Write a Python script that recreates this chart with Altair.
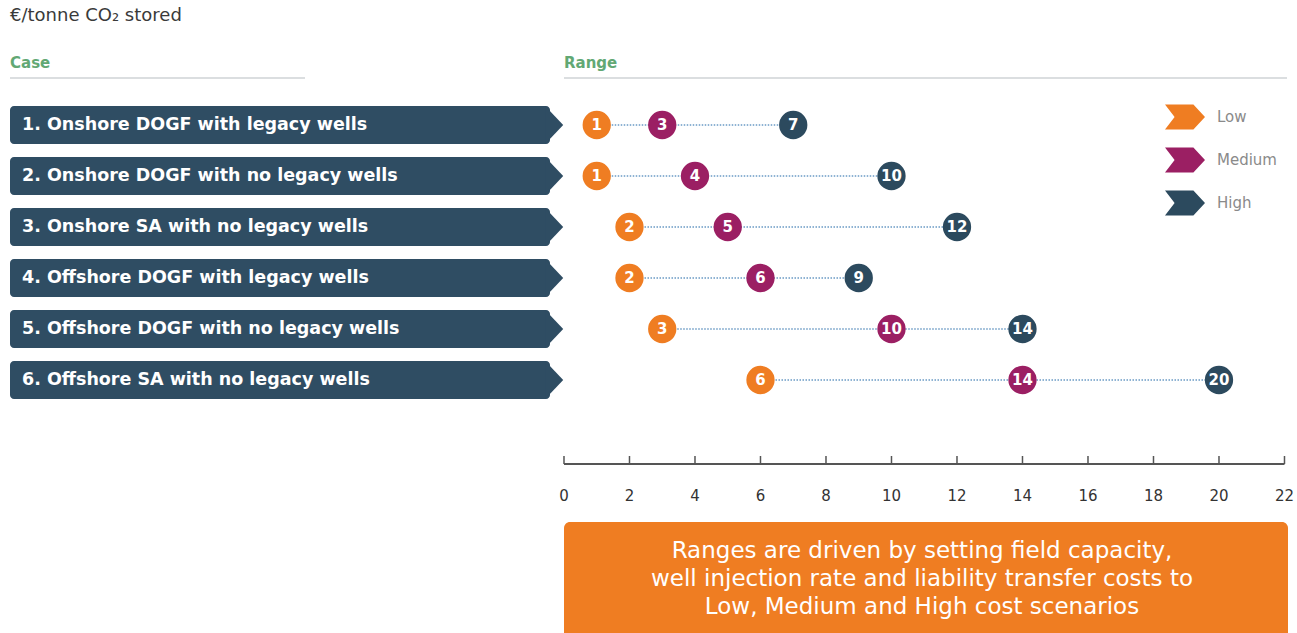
import altair as alt
import pandas as pd

# ---------------- data ----------------
cases = [
    "1. Onshore DOGF with legacy wells",
    "2. Onshore DOGF with no legacy wells",
    "3. Onshore SA with no legacy wells",
    "4. Offshore DOGF with legacy wells",
    "5. Offshore DOGF with no legacy wells",
    "6. Offshore SA with no legacy wells",
]
low = [1, 1, 2, 2, 3, 6]
medium = [3, 4, 5, 6, 10, 14]
high = [7, 10, 12, 9, 14, 20]
levels = ["Low", "Medium", "High"]
level_colors = ["#EF7D22", "#9B1F63", "#2C4A5E"]
tick_values = list(range(0, 23, 2))
title_text = "€/tonne CO₂ stored"
header_case = "Case"
header_range = "Range"
note_lines = [
    "Ranges are driven by setting field capacity,",
    "well injection rate and liability transfer costs to",
    "Low, Medium and High cost scenarios",
]

# ---------------- styles ----------------
W, H = 1297, 633
FONT = "DejaVu Sans"
BANNER = "#2F4D63"
GREEN = "#62A874"
ORANGE = "#EF7D22"
HALF = 0.3725  # half banner height in row units

rows = list(range(1, len(cases) + 1))
cases_df = pd.DataFrame({"case": cases, "row": rows})
ranges_df = pd.DataFrame({"case": cases, "row": rows, "low": low, "high": high})
dots_df = pd.DataFrame(
    [{"case": c, "row": r, "level": lv, "value": v}
     for c, r, l, m, h in zip(cases, rows, low, medium, high)
     for lv, v in zip(levels, [l, m, h])]
)
ticks_df = pd.DataFrame({"tick": tick_values})
axis_df = pd.DataFrame({"a": [tick_values[0]], "b": [tick_values[-1]]})
one = pd.DataFrame({"k": [0]})

xs = alt.Scale(domain=[-17.221, 22.382], nice=False, zero=False)
ys = alt.Scale(domain=[-1.451, 10.961], nice=False, zero=False, reverse=True)
X = lambda f: alt.X(f, scale=xs, axis=None)
Y = lambda f: alt.Y(f, scale=ys, axis=None)

def txt(s, x, y, **kw):
    return alt.Chart(one).mark_text(baseline="middle", font=FONT, **kw).encode(
        x=alt.value(x), y=alt.value(y), text=alt.value(s))

# headers
title = txt(title_text, 10, 16, align="left", fontSize=18, color="#3a3a3a")
hcase = txt(header_case, 10, 63, align="left", fontSize=15, fontWeight="bold", color=GREEN)
hrange = txt(header_range, 564, 63, align="left", fontSize=15, fontWeight="bold", color=GREEN)
uline1 = alt.Chart(one).mark_rule(color="#cfd3d6", strokeWidth=1.5).encode(
    x=alt.value(10), x2=alt.value(305), y=alt.value(78))
uline2 = alt.Chart(one).mark_rule(color="#cfd3d6", strokeWidth=1.5).encode(
    x=alt.value(564), x2=alt.value(1287), y=alt.value(78))

# banners
banners = alt.Chart(cases_df).transform_calculate(
    y0=f"datum.row - {HALF}", y1=f"datum.row + {HALF}"
).mark_rect(color=BANNER, cornerRadius=4).encode(
    y=Y("y0:Q"), y2="y1:Q", x=alt.value(10), x2=alt.value(550))
tips = alt.Chart(cases_df).mark_point(
    shape="M-0.15,-1L0.8,0L-0.15,1Z", size=1444, filled=True, opacity=1, color=BANNER, strokeWidth=0
).encode(y=Y("row:Q"), x=alt.value(548))
blabels = alt.Chart(cases_df).mark_text(align="left", baseline="middle", font=FONT, fontSize=17.5,
                                        fontWeight="bold", color="white").encode(
    y=Y("row:Q"), x=alt.value(22), text="case:N")

# range lines
lines = alt.Chart(ranges_df).mark_rule(color="#8FB3D3", strokeWidth=2, strokeDash=[1.5, 1.5]).encode(
    y=Y("row:Q"), x=X("low:Q"), x2="high:Q")

# dots
dots = alt.Chart(dots_df).mark_circle(size=800, opacity=1).encode(
    y=Y("row:Q"), x=X("value:Q"),
    color=alt.Color("level:N", scale=alt.Scale(domain=levels, range=level_colors),
                    legend=alt.Legend(title=None, orient="none", legendX=1165, legendY=97,
                                      symbolType="M-1,-0.62L0.42,-0.62L1,0L0.42,0.62L-1,0.62L-0.52,0Z",
                                      symbolSize=1600, symbolStrokeWidth=0, symbolOpacity=1,
                                      labelFont=FONT, labelFontSize=15, labelColor="#8a8a8a",
                                      labelOffset=12, rowPadding=10, padding=0)))
dlabels = alt.Chart(dots_df).mark_text(baseline="middle", align="center", font=FONT, fontSize=15,
                                       fontWeight="bold", color="white").encode(
    y=Y("row:Q"), x=X("value:Q"), text="value:Q")

# axis
axline = alt.Chart(axis_df).mark_rule(color="#555555", strokeWidth=2).encode(
    x=X("a:Q"), x2="b:Q", y=alt.value(464))
axticks = alt.Chart(ticks_df).mark_rule(color="#555555", strokeWidth=1.5).encode(
    x=X("tick:Q"), y=alt.value(456), y2=alt.value(464))
axlabels = alt.Chart(ticks_df).mark_text(baseline="middle", align="center", font=FONT, fontSize=15,
                                         color="#333333").encode(
    x=X("tick:Q"), y=alt.value(496), text="tick:Q")

# note box
box = alt.Chart(one).mark_rect(color=ORANGE, cornerRadius=6).encode(
    x=alt.value(564), x2=alt.value(1288), y=alt.value(522), y2=alt.value(650))
note = alt.Chart(one).mark_text(align="center", baseline="middle", font=FONT, fontSize=23, lineHeight=28,
                                lineBreak="\n", color="white").encode(
    x=alt.value(922), y=alt.value(551), text=alt.value("\n".join(note_lines)))

chart = alt.layer(
    title, hcase, hrange, uline1, uline2,
    banners, tips, blabels,
    lines, dots, dlabels,
    axline, axticks, axlabels,
    box, note,
).properties(
    width=W, height=H, padding=0,
    autosize=alt.AutoSizeParams(type="none"),
    background="white",
).configure_view(stroke=None)

chart.save("out.html", embed_options={"renderer": "svg", "actions": False})
